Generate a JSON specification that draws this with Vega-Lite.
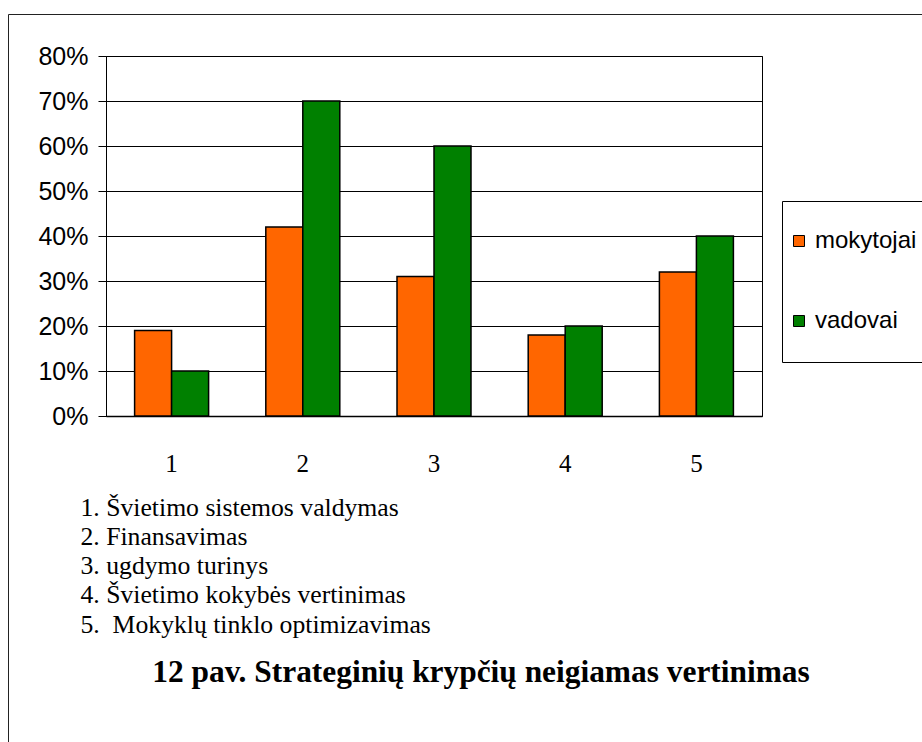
{
  "$schema": "https://vega.github.io/schema/vega-lite/v6.json",
  "width": 656,
  "height": 360,
  "autosize": {"type": "none"},
  "padding": {"left": 106, "top": 56, "right": 160, "bottom": 326},
  "background": "white",
  "data": {
    "values": [
      {"cat": "1", "series": "mokytojai", "value": 0.19},
      {"cat": "1", "series": "vadovai", "value": 0.10},
      {"cat": "2", "series": "mokytojai", "value": 0.42},
      {"cat": "2", "series": "vadovai", "value": 0.70},
      {"cat": "3", "series": "mokytojai", "value": 0.31},
      {"cat": "3", "series": "vadovai", "value": 0.60},
      {"cat": "4", "series": "mokytojai", "value": 0.18},
      {"cat": "4", "series": "vadovai", "value": 0.20},
      {"cat": "5", "series": "mokytojai", "value": 0.32},
      {"cat": "5", "series": "vadovai", "value": 0.40}
    ]
  },
  "title": {
    "text": "12 pav. Strateginių krypčių neigiamas vertinimas",
    "orient": "top",
    "frame": "group",
    "anchor": "middle",
    "dx": 47,
    "dy": 700,
    "offset": 0,
    "baseline": "alphabetic",
    "font": "Liberation Serif",
    "fontSize": 31.4,
    "fontWeight": "bold",
    "color": "#000000"
  },
  "mark": {"type": "bar", "strokeWidth": 1.5},
  "encoding": {
    "x": {
      "field": "cat",
      "type": "nominal",
      "scale": {"paddingInner": 0.436, "paddingOuter": 0.218},
      "axis": {
        "labelAngle": 0,
        "labelFont": "Liberation Serif",
        "labelFontSize": 25,
        "labelColor": "#000000",
        "labelBaseline": "alphabetic",
        "labelPadding": 55,
        "ticks": false,
        "domainColor": "#000000",
        "domainWidth": 1.5,
        "title": [
          "1. Švietimo sistemos valdymas",
          "2. Finansavimas",
          "3. ugdymo turinys",
          "4. Švietimo kokybės vertinimas",
          "5. \u00a0Mokyklų tinklo optimizavimas"
        ],
        "titleFont": "Liberation Serif",
        "titleFontSize": 25.7,
        "titleFontWeight": "normal",
        "titleColor": "#000000",
        "titleAlign": "left",
        "titleAnchor": "start",
        "titleBaseline": "alphabetic",
        "titleX": -26,
        "titleY": 99,
        "titleLineHeight": 29.3
      }
    },
    "xOffset": {"field": "series", "type": "nominal"},
    "y": {
      "field": "value",
      "type": "quantitative",
      "scale": {"domain": [0, 0.8]},
      "axis": {
        "values": [0, 0.1, 0.2, 0.3, 0.4, 0.5, 0.6, 0.7, 0.8],
        "format": ".0%",
        "title": null,
        "labelFont": "Liberation Sans",
        "labelFontSize": 25,
        "labelColor": "#000000",
        "labelPadding": 10,
        "tickSize": 8,
        "tickColor": "#000000",
        "domainColor": "#000000",
        "grid": true,
        "gridColor": "#000000",
        "gridWidth": 1
      }
    },
    "color": {
      "field": "series",
      "type": "nominal",
      "scale": {"domain": ["mokytojai", "vadovai"], "range": ["#FF6600", "#008000"]},
      "legend": {
        "orient": "none",
        "legendX": 676,
        "legendY": 145,
        "title": " ",
        "titleFontSize": 10,
        "titlePadding": 8,
        "symbolType": "square",
        "symbolSize": 121,
        "symbolOffset": -5,
        "symbolStrokeColor": "#000000",
        "symbolStrokeWidth": 1,
        "labelFont": "Liberation Sans",
        "labelFontSize": 24,
        "labelColor": "#000000",
        "labelOffset": 4,
        "labelLimit": 300,
        "labelExpr": "[datum.label, '']",
        "labelBaseline": "middle",
        "rowPadding": 37,
        "padding": 10,
        "strokeColor": "#000000",
        "fillColor": "#FFFFFF",
        "encode": {"labels": {"update": {"lineHeight": {"value": 19}}}}
      }
    },
    "stroke": {
      "field": "value",
      "type": "quantitative",
      "scale": {"domain": [0, 1], "range": ["#000000", "#000000"]},
      "legend": {
        "type": "gradient",
        "orient": "none",
        "legendX": -98,
        "legendY": -42,
        "direction": "horizontal",
        "gradientLength": 930,
        "gradientThickness": 740,
        "gradientOpacity": 0,
        "gradientStrokeWidth": 0,
        "values": [0, 1],
        "labels": false,
        "labelExpr": "''",
        "labelOpacity": 0,
        "title": null,
        "padding": 0,
        "strokeColor": "#222222",
        "fillColor": null
      }
    }
  },
  "config": {
    "view": {"stroke": "#000000", "strokeWidth": 1}
  }
}
